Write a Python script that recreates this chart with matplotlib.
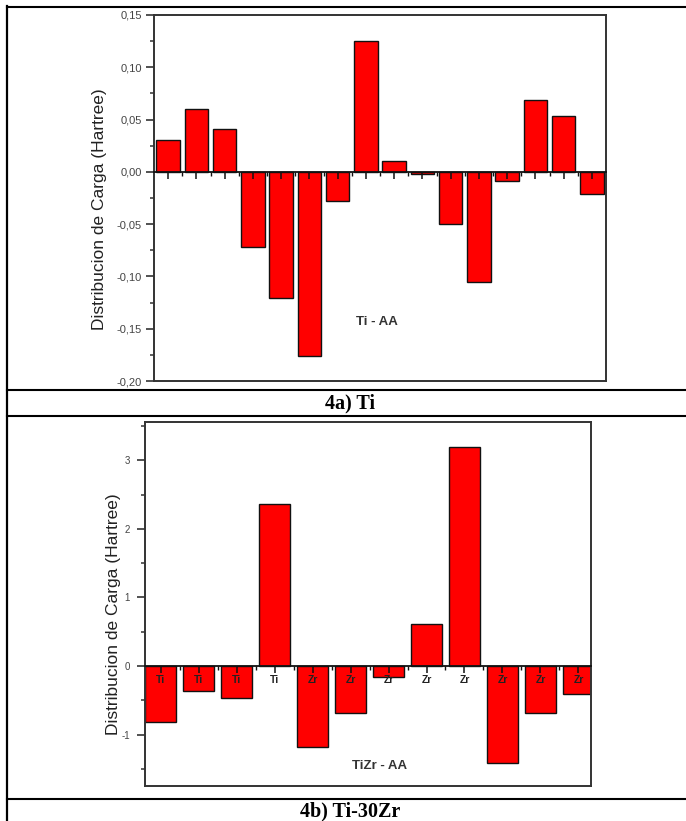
"""
Charge distribution bars for Ti (4a) and Ti-30Zr (4b)
"""
import numpy as np
import matplotlib
matplotlib.use('Agg')
import matplotlib.pyplot as plt
from matplotlib.lines import Line2D
from matplotlib.ticker import MultipleLocator, FuncFormatter

# 4a) Ti - AA
ti_values = [0.030, 0.060, 0.041, -0.072, -0.121, -0.176, -0.028, 0.125,
             0.010, -0.002, -0.050, -0.105, -0.009, 0.069, 0.053, -0.021]
ti_note = 'Ti - AA'

# 4b) Ti-30Zr - AA
tizr_labels = ['Ti', 'Ti', 'Ti', 'Ti', 'Zr', 'Zr', 'Zr', 'Zr', 'Zr', 'Zr', 'Zr', 'Zr']
tizr_values = [-0.81, -0.36, -0.46, 2.37, -1.18, -0.68, -0.165, 0.61, 3.19, -1.41, -0.68, -0.41]
tizr_note = 'TiZr - AA'

y_label = 'Distribucion de Carga (Hartree)'
captions = ['4a) Ti', '4b) Ti-30Zr']

W, H = 686, 821
plt.rcParams['font.family'] = ['Liberation Sans', 'DejaVu Sans']
plt.rcParams['axes.unicode_minus'] = False

fig = plt.figure(figsize=(W / 100, H / 100), dpi=100)
fig.patch.set_facecolor('white')


def px_rect(left, top, right, bottom):
    # convert a pixel box to figure fractions
    return [left / W, 1 - bottom / H, (right - left) / W, (bottom - top) / H]


def draw_panel(ax, values, ylim, xlim, tick_labels=None):
    x = np.arange(1, len(values) + 1)
    ax.bar(x, values, width=0.83, color='#ff0000', edgecolor='#111111',
           linewidth=1.0, zorder=2)
    ax.set_xlim(*xlim)
    ax.set_ylim(*ylim)
    ax.set_xticks([])
    for sp in ax.spines.values():
        sp.set_linewidth(1.4)
        sp.set_color('#333333')

    # axis line at zero with the ticks below it
    zero_pos = (0 - ylim[0]) / (ylim[1] - ylim[0])
    sec = ax.secondary_xaxis(zero_pos)
    sec.set_alignment('bottom')
    sec.set_zorder(5)
    sec.spines['bottom'].set_linewidth(1.3)
    sec.spines['bottom'].set_color('#111111')
    sec.set_xticks(x)
    sec.set_xticks(x[:-1] + 0.5, minor=True)
    if tick_labels is None:
        sec.set_xticklabels([])
    else:
        sec.set_xticklabels(tick_labels, fontsize=7.5, fontweight='bold', color='#222222')
    sec.tick_params(axis='x', which='major', direction='out', length=5,
                    width=1.1, color='#111111', pad=1.5)
    sec.tick_params(axis='x', which='minor', direction='out', length=3,
                    width=1.0, color='#111111')
    return sec


# ---- top panel: Ti
ax1 = fig.add_axes(px_rect(154, 15, 606, 381))
draw_panel(ax1, ti_values, (-0.20, 0.15), (0.5, len(ti_values) + 0.5))
ax1.yaxis.set_major_locator(MultipleLocator(0.05))
ax1.yaxis.set_minor_locator(MultipleLocator(0.025))
ax1.yaxis.set_major_formatter(FuncFormatter(lambda v, p: f'{v:.2f}'.replace('.', ',')))
ax1.tick_params(axis='y', which='major', direction='out', length=5.8, width=1.2,
                color='#333333', labelsize=8, labelcolor='#444444', pad=3)
ax1.tick_params(axis='y', which='minor', direction='out', length=3.2, width=1.1,
                color='#333333')
ax1.set_ylabel(y_label, fontsize=12.5, color='#222222')
ax1.yaxis.set_label_coords(-0.105, 0.47)
ax1.text(0.493, 0.161, ti_note, transform=ax1.transAxes, ha='center', va='center',
         fontsize=9.5, fontweight='bold', color='#333333')

# ---- bottom panel: Ti-30Zr
ax2 = fig.add_axes(px_rect(145, 422, 591, 786))
draw_panel(ax2, tizr_values, (-1.75, 3.56), (0.59, 12.33), tick_labels=tizr_labels)
ax2.yaxis.set_major_locator(MultipleLocator(1))
ax2.yaxis.set_minor_locator(MultipleLocator(0.5))
ax2.tick_params(axis='y', which='major', direction='out', length=5.8, width=1.2,
                color='#333333', labelsize=7, labelcolor='#444444', pad=5)
ax2.tick_params(axis='y', which='minor', direction='out', length=3.2, width=1.1,
                color='#333333')
ax2.set_ylabel(y_label, fontsize=12.5, color='#222222')
ax2.yaxis.set_label_coords(-0.053, 0.471)
ax2.text(0.527, 0.056, tizr_note, transform=ax2.transAxes, ha='center', va='center',
         fontsize=9.5, fontweight='bold', color='#333333')

# ---- table borders around the panels
for y in [7, 390, 415.5, 799]:
    fig.add_artist(Line2D([7 / W, 1], [1 - y / H, 1 - y / H], color='black',
                          linewidth=1.5, transform=fig.transFigure))
fig.add_artist(Line2D([7 / W, 7 / W], [1 - 6 / H, 0], color='black',
                      linewidth=1.6, transform=fig.transFigure))

# captions
fig.text(350 / W, 1 - 403 / H, captions[0], ha='center', va='center',
         fontsize=14.5, fontweight='bold', family=['Liberation Serif', 'DejaVu Serif'])
fig.text(350 / W, 1 - 811.5 / H, captions[1], ha='center', va='center',
         fontsize=14.5, fontweight='bold', family=['Liberation Serif', 'DejaVu Serif'])

fig.savefig('out.png', dpi=100)
